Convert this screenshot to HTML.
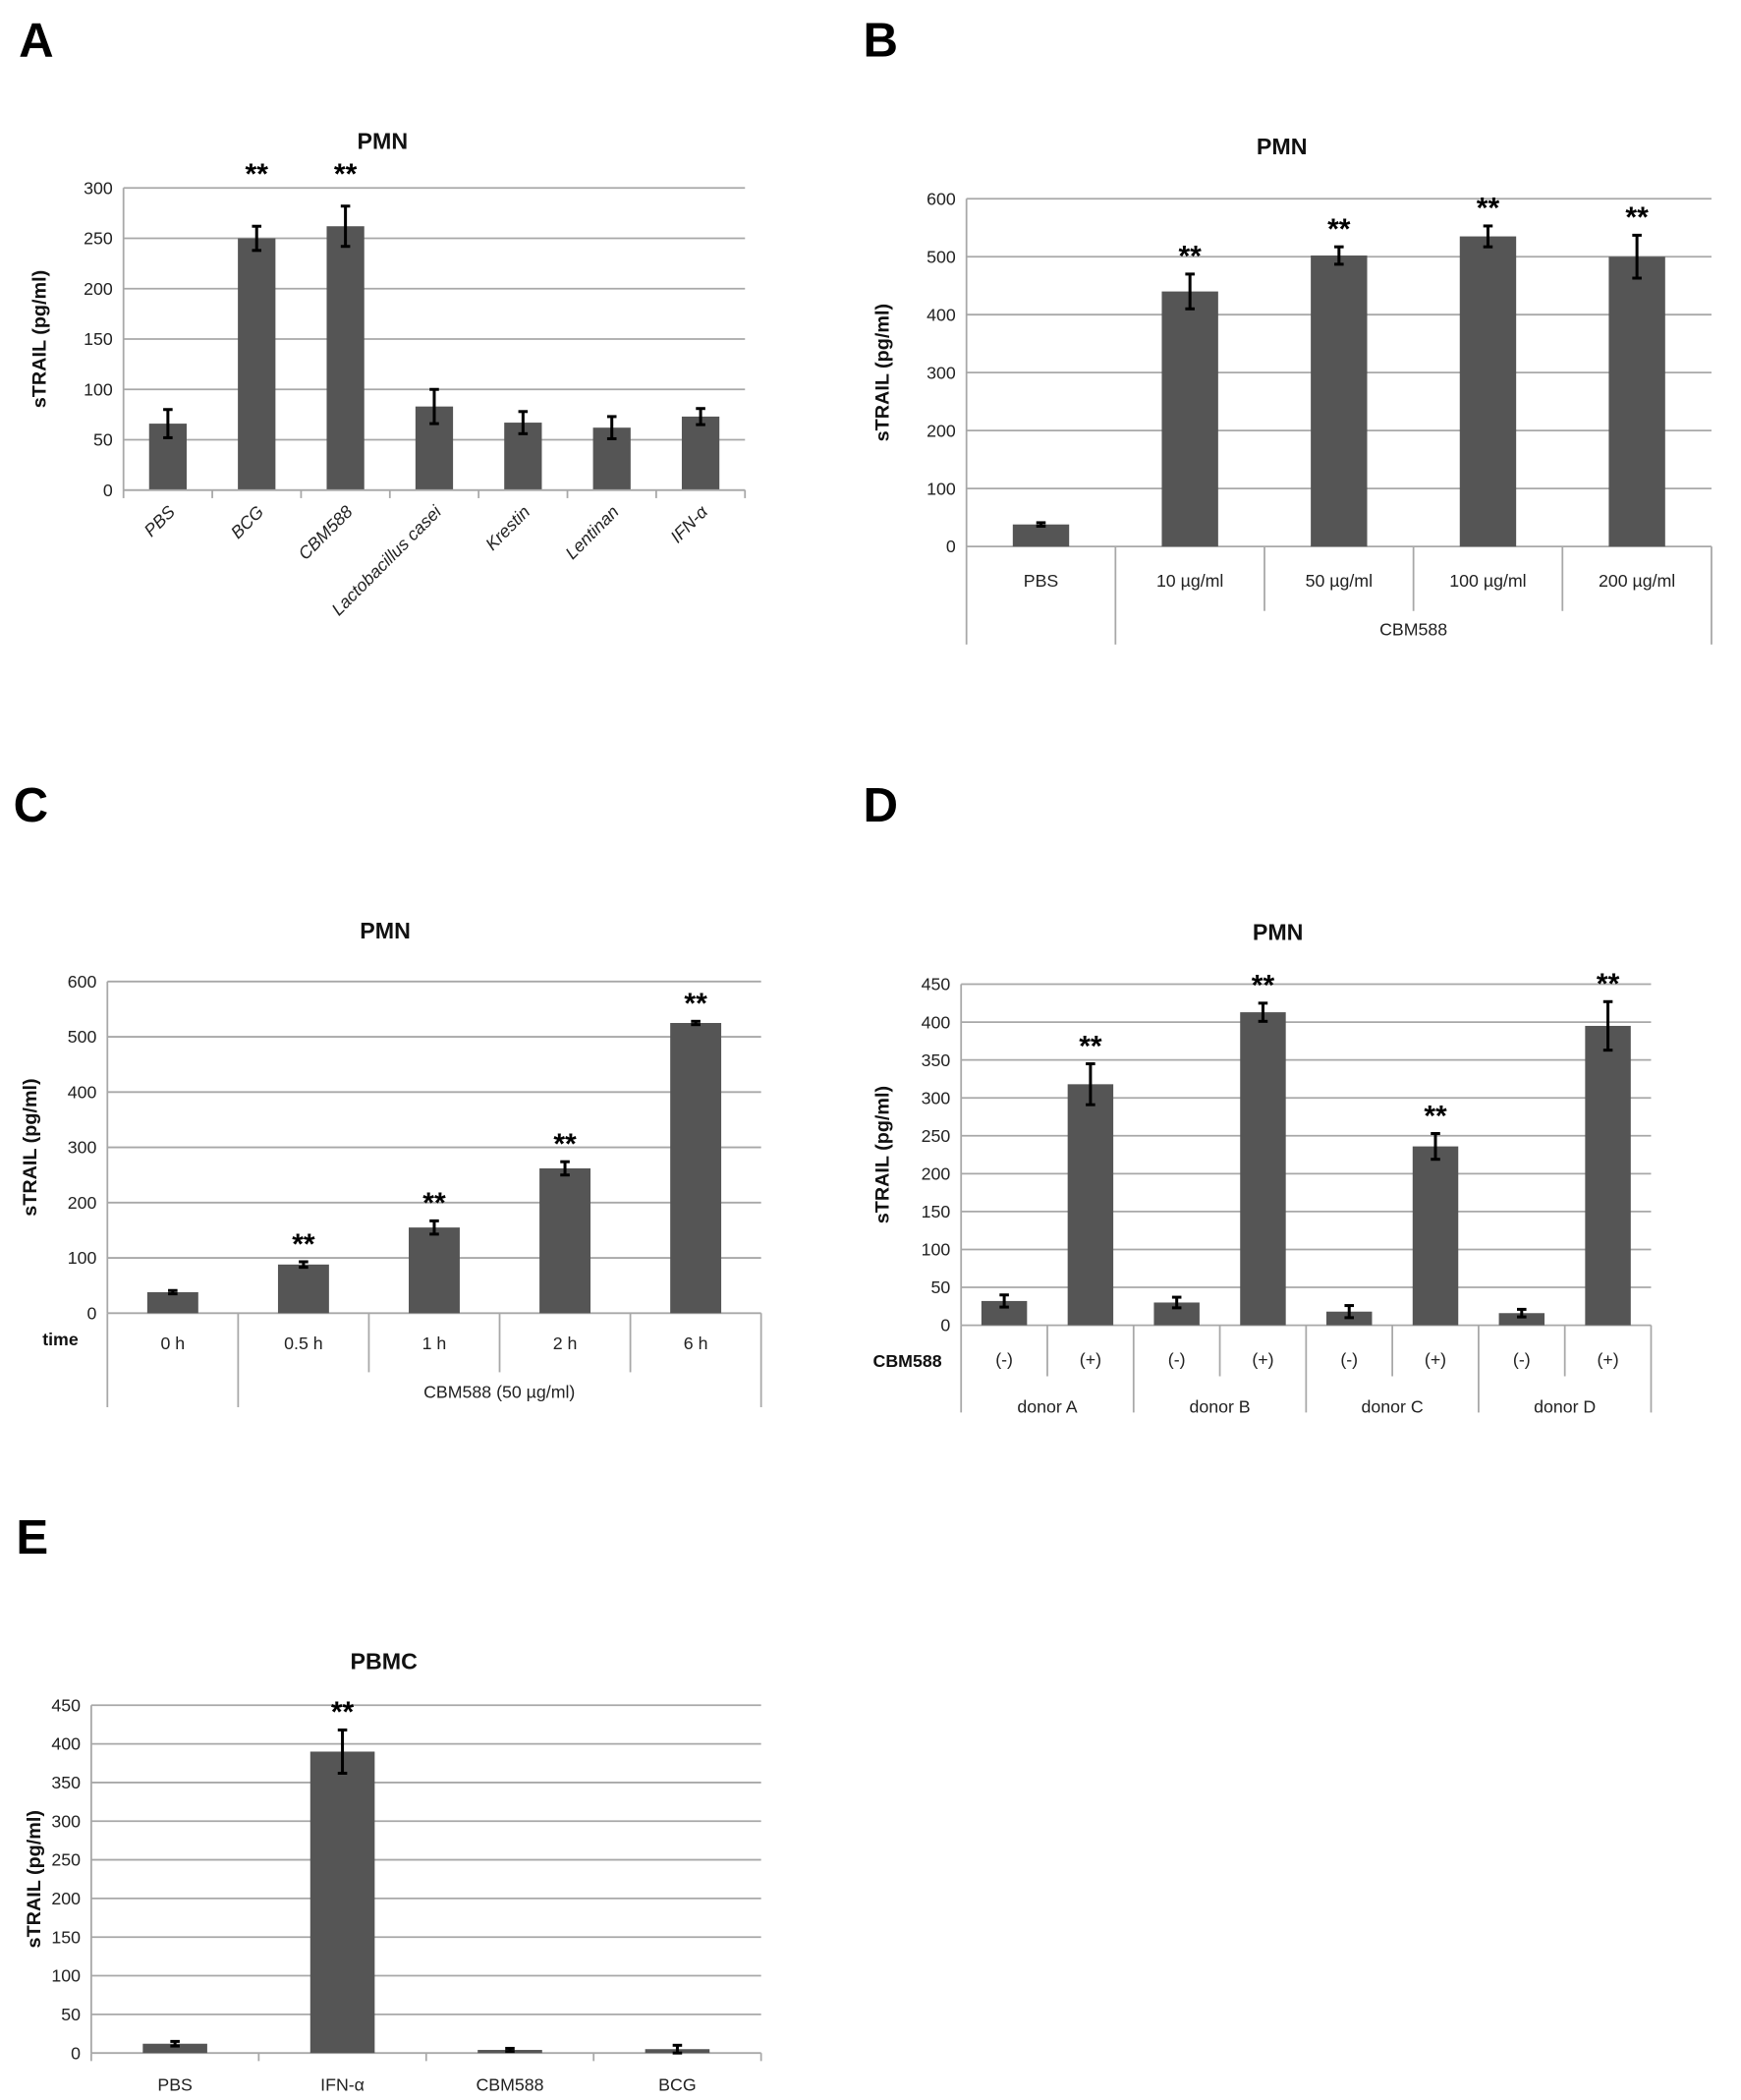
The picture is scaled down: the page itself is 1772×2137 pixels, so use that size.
<!DOCTYPE html>
<html><head><meta charset="utf-8"><style>
html,body{margin:0;padding:0;background:#fff;}
svg{display:block;font-family:"Liberation Sans",sans-serif;}
</style></head><body>
<svg id="fig" width="1772" height="2137" viewBox="0 0 1297 1564" preserveAspectRatio="none" xmlns="http://www.w3.org/2000/svg"></svg>
<script>
// Panel A
const catsA = ["PBS","BCG","CBM588","Lactobacillus casei","Krestin","Lentinan","IFN-α"];
const valsA = [66,250,262,83,67,62,73];
const errA = [14,12,20,17,11,11,8];
const sigA = [0,1,1,0,0,0,0];
const ticksA = [0,50,100,150,200,250,300];
// Panel B
const catsB = ["PBS","10 µg/ml","50 µg/ml","100 µg/ml","200 µg/ml"];
const valsB = [38,440,502,535,500];
const errB = [3,30,15,18,37];
const sigB = [0,1,1,1,1];
const ticksB = [0,100,200,300,400,500,600];
// Panel C
const catsC = ["0 h","0.5 h","1 h","2 h","6 h"];
const valsC = [38,88,155,262,525];
const errC = [3,5,12,12,3];
const sigC = [0,1,1,1,1];
const ticksC = [0,100,200,300,400,500,600];
// Panel D
const catsD = ["(-)","(+)","(-)","(+)","(-)","(+)","(-)","(+)"];
const groupsD = ["donor A","donor B","donor C","donor D"];
const valsD = [32,318,30,413,18,236,16,395];
const errD = [8,27,7,12,8,17,5,32];
const sigD = [0,1,0,1,0,1,0,1];
const ticksD = [0,50,100,150,200,250,300,350,400,450];
// Panel E
const catsE = ["PBS","IFN-α","CBM588","BCG"];
const valsE = [12,390,4,5];
const errE = [3,28,2,5];
const sigE = [0,1,0,0];
const ticksE = [0,50,100,150,200,250,300,350,400,450];

const NS="http://www.w3.org/2000/svg";
const svg=document.getElementById('fig');
function mk(tag,attrs,parent,text){const e=document.createElementNS(NS,tag);for(const k in attrs)e.setAttribute(k,attrs[k]);if(text!==undefined)e.textContent=text;(parent||svg).appendChild(e);return e;}

function panel(o){
  const g=mk('g',{});
  
  
  const L=mk('text',{x:o.lx,y:o.ly,'font-size':36,'font-weight':'bold',fill:'#000'},g,o.letter);
  
  
  const T=mk('text',{x:o.tx,y:o.ty,'font-size':17,'font-weight':'bold','text-anchor':'middle',fill:'#111'},g,o.title);
  
  
  const max=o.ticks[o.ticks.length-1];
  const ys=v=>o.y0-(v/max)*(o.y0-o.yt);
  const n=o.cats.length, cw=(o.x1-o.x0)/n;
  const xs=i=>o.x0+cw*(i+0.5);
  o.ticks.forEach(t=>{
    const gl=mk('line',{x1:o.x0,x2:o.x1,y1:ys(t),y2:ys(t),stroke:'#a8a8a8','stroke-width':1.3},g);
    
    
    const tl=mk('text',{x:o.x0-8,y:ys(t)+4.5,'font-size':13,'text-anchor':'end',fill:'#222'},g,String(t));
    
    
  });
  mk('line',{x1:o.x0,x2:o.x0,y1:o.yt,y2:o.y0,stroke:'#a8a8a8','stroke-width':1.3},g);
  const yl=mk('text',{x:0,y:0,'font-size':14.5,'font-weight':'bold','text-anchor':'middle',fill:'#111',transform:`translate(${o.yx},${(o.y0+o.yt)/2}) rotate(-90)`},g,'sTRAIL (pg/ml)');
  
  
  const bw=o.bw;
  o.vals.forEach((v,i)=>{
    const x=xs(i);
    const b=mk('rect',{x:x-bw/2,y:ys(v),width:bw,height:o.y0-ys(v),fill:'#555'},g);
    
    
    const e=o.err[i];
    const eg=mk('g',{stroke:'#000','stroke-width':2.2},g);
    
    
    mk('line',{x1:x,x2:x,y1:ys(v+e),y2:ys(v-e)},eg);
    mk('line',{x1:x-3.5,x2:x+3.5,y1:ys(v+e),y2:ys(v+e)},eg);
    mk('line',{x1:x-3.5,x2:x+3.5,y1:ys(v-e),y2:ys(v-e)},eg);
    if(o.sig[i]){
      const sy = o.sigY!==undefined ? o.sigY : ys(v+e)-6;
      const s=mk('text',{x:x,y:sy,'font-size':22,'font-weight':'bold','text-anchor':'middle',fill:'#000'},g,'**');
      
      
    }
  });
  o.extra(g,xs,cw);
}
function tick(g,x,y1,y2){mk('line',{x1:x,x2:x,y1:y1,y2:y2,stroke:'#a8a8a8','stroke-width':1.3},g);}
function lab(g,x,y,t,extra){const e=mk('text',Object.assign({x:x,y:y,'font-size':13,'text-anchor':'middle',fill:'#222'},extra||{}),g,t);return e;}

panel({id:'a',letter:'A',lx:14,ly:42,title:'PMN',tx:285,ty:111,x0:92,x1:555,y0:365,yt:140,ticks:ticksA,cats:catsA,vals:valsA,err:errA,sig:sigA,sigY:137,bw:28,yx:34,
 extra:(g,xs,cw)=>{mk('line',{x1:92,x2:555,y1:365,y2:365,stroke:'#a8a8a8','stroke-width':1.3},g);
  for(let i=0;i<=catsA.length;i++)tick(g,92+cw*i,365,371);
  catsA.forEach((c,i)=>lab(g,0,0,c,{'text-anchor':'end','font-style':'italic',transform:`translate(${xs(i)+6},${382}) rotate(-45)`}));}});

panel({id:'b',letter:'B',lx:643,ly:42,title:'PMN',tx:955,ty:115,x0:720,x1:1275,y0:407,yt:148,ticks:ticksB,cats:catsB,vals:valsB,err:errB,sig:sigB,bw:42,yx:662,
 extra:(g,xs,cw)=>{tick(g,720,407,480);tick(g,1275,407,480);tick(g,831,407,480);
  for(let i=2;i<catsB.length;i++)tick(g,720+cw*i,407,455);
  catsB.forEach((c,i)=>lab(g,xs(i),437,c));
  const t=mk('text',{x:1053,y:473,'font-size':13,'text-anchor':'middle',fill:'#222'},g,'CBM588');}});

panel({id:'c',letter:'C',lx:10,ly:612,title:'PMN',tx:287,ty:699,x0:80,x1:567,y0:978,yt:731,ticks:ticksC,cats:catsC,vals:valsC,err:errC,sig:sigC,bw:38,yx:27,
 extra:(g,xs,cw)=>{tick(g,80,978,1048);tick(g,567,978,1048);tick(g,80+cw,978,1048);
  for(let i=2;i<catsC.length;i++)tick(g,80+cw*i,978,1022);
  catsC.forEach((c,i)=>lab(g,xs(i),1005,c));
  const tm=mk('text',{x:45,y:1002,'font-size':13,'font-weight':'bold','text-anchor':'middle',fill:'#111'},g,'time');
  const t=mk('text',{x:372,y:1041,'font-size':13,'text-anchor':'middle',fill:'#222'},g,'CBM588 (50 µg/ml)');}});

panel({id:'d',letter:'D',lx:643,ly:612,title:'PMN',tx:952,ty:700,x0:716,x1:1230,y0:987,yt:733,ticks:ticksD,cats:catsD,vals:valsD,err:errD,sig:sigD,bw:34,yx:662,
 extra:(g,xs,cw)=>{for(let i=0;i<=catsD.length;i++)tick(g,716+cw*i,987,i%2===0?1052:1025);
  catsD.forEach((c,i)=>lab(g,xs(i),1017,c));
  const cb=mk('text',{x:676,y:1018,'font-size':13,'font-weight':'bold','text-anchor':'middle',fill:'#111'},g,'CBM588');
  groupsD.forEach((d,j)=>{const t=mk('text',{x:716+cw*(2*j+1),y:1052,'font-size':13,'text-anchor':'middle',fill:'#222'},g,d);});
  mk('rect',{x:700,y:1053,width:560,height:20,fill:'#fff'},g);}});

panel({id:'e',letter:'E',lx:12,ly:1157,title:'PBMC',tx:286,ty:1243,x0:68,x1:567,y0:1529,yt:1270,ticks:ticksE,cats:catsE,vals:valsE,err:errE,sig:sigE,bw:48,yx:30,
 extra:(g,xs,cw)=>{for(let i=0;i<=catsE.length;i++)tick(g,68+cw*i,1529,1535);
  catsE.forEach((c,i)=>lab(g,xs(i),1557,c));}});
</script>
</body></html>
